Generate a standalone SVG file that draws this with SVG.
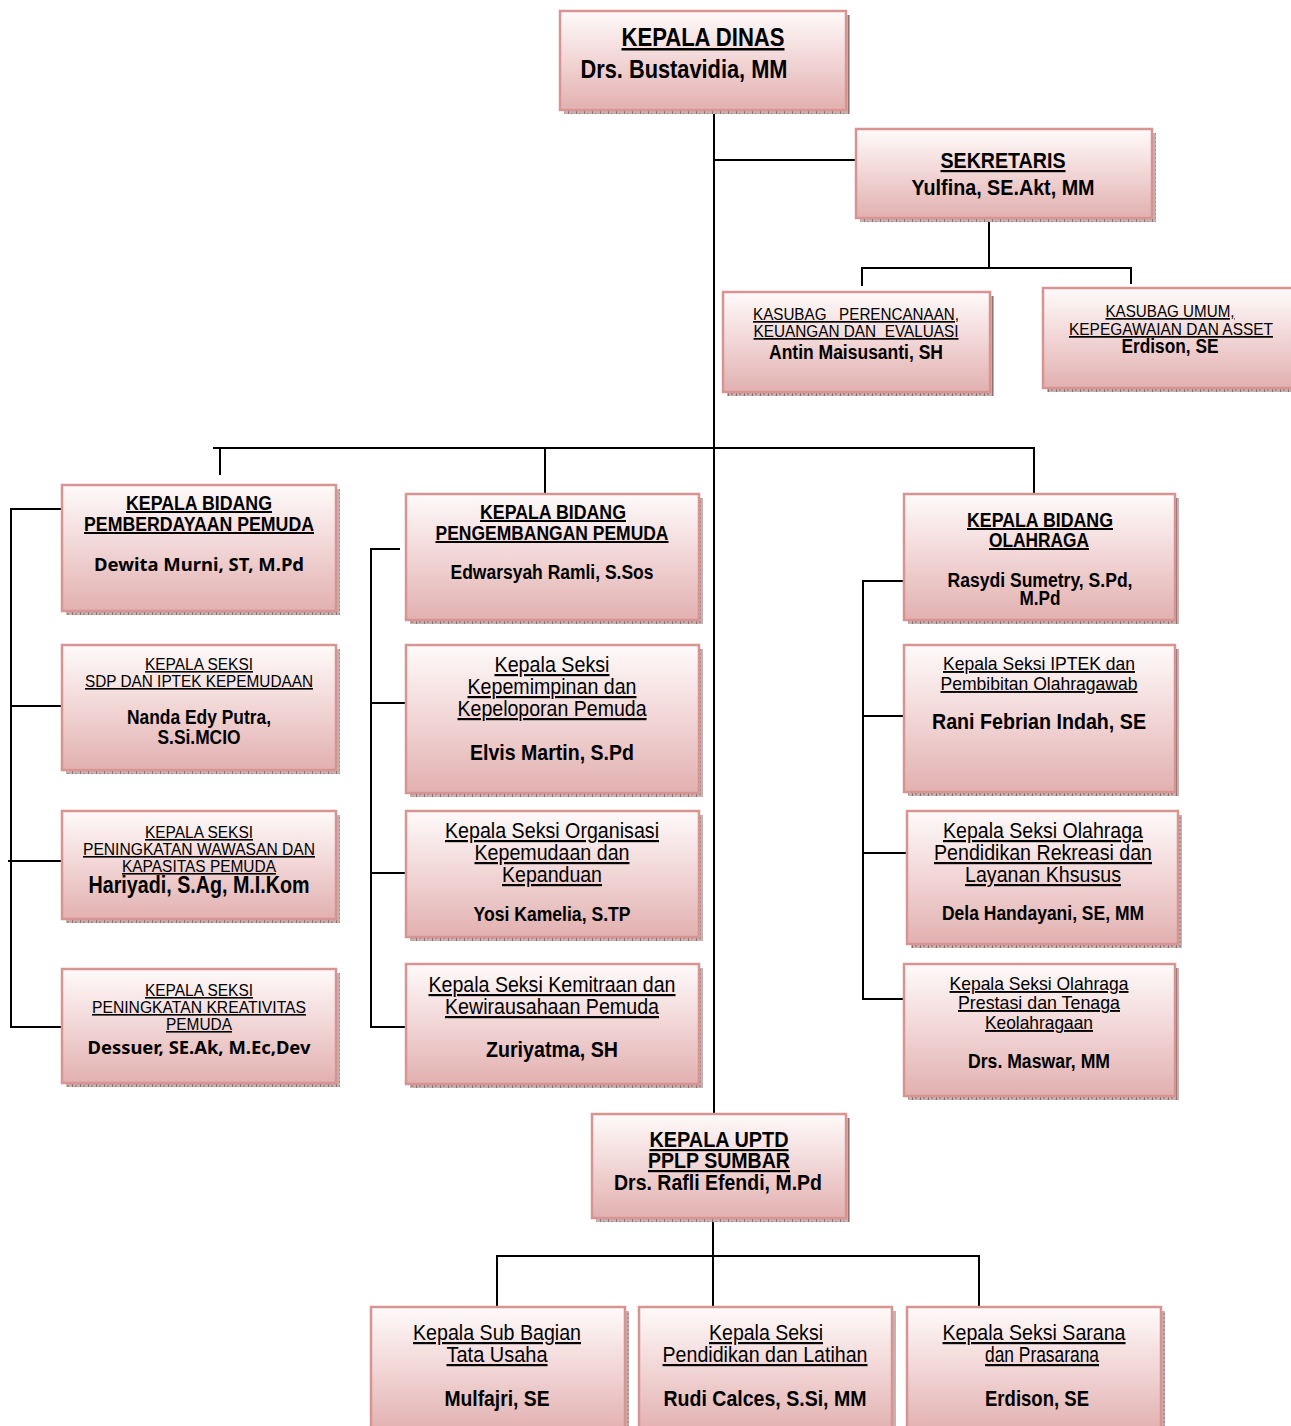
<svg xmlns="http://www.w3.org/2000/svg" width="1291" height="1426" viewBox="0 0 1291 1426">
<defs>
  <linearGradient id="g" x1="0" y1="0" x2="0" y2="1">
    <stop offset="0" stop-color="#fefafa"/>
    <stop offset="0.45" stop-color="#f3d9d9"/>
    <stop offset="1" stop-color="#e2b0b0"/>
  </linearGradient>
  <pattern id="sh" width="8" height="4" patternUnits="userSpaceOnUse">
    <rect width="8" height="4" fill="#c7b1b1"/>
    <rect x="0" y="0" width="1" height="4" fill="#8d6f6f"/>
    <rect x="3" y="1" width="2" height="2" fill="#a88e8e"/>
  </pattern>
</defs>
<style>
  .sh{fill:url(#sh)}
  .bx{fill:url(#g);stroke:#d79493;stroke-width:2.5}
  .ln{stroke:#000;stroke-width:2;fill:none}
  text{font-family:"Liberation Sans Narrow","Arial Narrow","Liberation Sans",sans-serif;text-anchor:middle;fill:#000}
  .h{font-weight:bold;text-decoration:underline}
  .r{text-decoration:underline}
  .b{font-weight:bold}
  .c{font-family:"Noto Sans","Open Sans",sans-serif;font-weight:bold}
</style>

<g id="connectors">
  <path class="ln" d="M714 110 V1114"/>
  <path class="ln" d="M714 160 H856"/>
  <path class="ln" d="M989 218 V268 M862 268 H1131 M862 267 V286 M1131 267 V284"/>
  <path class="ln" d="M213 448 H1035 M220 447 V475 M545 447 V494 M1034 447 V494"/>
  <path class="ln" d="M11 509 V1028 M10 509 H62 M10 706 H62 M8 861 H62 M10 1027 H62"/>
  <path class="ln" d="M371 549 V1028 M370 549 H400 M370 703 H406 M370 873 H406 M370 1027 H406"/>
  <path class="ln" d="M863 581 V1000 M862 581 H904 M862 716 H904 M862 853 H907 M862 999 H904"/>
  <path class="ln" d="M713 1218 V1307 M497 1256 H980 M497 1255 V1307 M979 1255 V1307"/>
</g>

<g id="kepala-dinas">
  <rect class="sh" x="564" y="15" width="286" height="99"/>
  <rect class="bx" x="560" y="11" width="286" height="99"/>
  <text class="h" x="703" y="46" font-size="25" textLength="163" lengthAdjust="spacingAndGlyphs">KEPALA DINAS</text>
  <text class="b" x="684" y="78" font-size="25" textLength="207" lengthAdjust="spacingAndGlyphs">Drs. Bustavidia, MM</text>
</g>

<g id="sekretaris">
  <rect class="sh" x="860" y="133" width="296" height="89"/>
  <rect class="bx" x="856" y="129" width="296" height="89"/>
  <text class="h" x="1003" y="168" font-size="22" textLength="125" lengthAdjust="spacingAndGlyphs">SEKRETARIS</text>
  <text class="b" x="1003" y="195" font-size="22" textLength="183" lengthAdjust="spacingAndGlyphs">Yulfina, SE.Akt, MM</text>
</g>

<g id="kasubag-perencanaan">
  <rect class="sh" x="727" y="296" width="267" height="100"/>
  <rect class="bx" x="723" y="292" width="267" height="100"/>
  <text class="r" x="856" y="320" font-size="17" textLength="206" lengthAdjust="spacingAndGlyphs" xml:space="preserve">KASUBAG   PERENCANAAN,</text>
  <text class="r" x="856" y="337" font-size="17" textLength="205" lengthAdjust="spacingAndGlyphs" xml:space="preserve">KEUANGAN DAN  EVALUASI</text>
  <text class="b" x="856" y="359" font-size="20" textLength="174" lengthAdjust="spacingAndGlyphs">Antin Maisusanti, SH</text>
</g>

<g id="kasubag-umum">
  <rect class="sh" x="1047" y="292" width="250" height="100"/>
  <rect class="bx" x="1043" y="288" width="250" height="100"/>
  <text class="r" x="1170" y="317" font-size="17" textLength="129" lengthAdjust="spacingAndGlyphs">KASUBAG UMUM,</text>
  <text class="r" x="1171" y="335" font-size="17" textLength="204" lengthAdjust="spacingAndGlyphs">KEPEGAWAIAN DAN ASSET</text>
  <text class="b" x="1170" y="353" font-size="20" textLength="97" lengthAdjust="spacingAndGlyphs">Erdison, SE</text>
</g>

<g id="kabid-pemberdayaan">
  <rect class="sh" x="66" y="489" width="274" height="126"/>
  <rect class="bx" x="62" y="485" width="274" height="126"/>
  <text class="h" x="199" y="510" font-size="20" textLength="146" lengthAdjust="spacingAndGlyphs">KEPALA BIDANG</text>
  <text class="h" x="199" y="531" font-size="20" textLength="230" lengthAdjust="spacingAndGlyphs">PEMBERDAYAAN PEMUDA</text>
  <text class="c" x="199" y="571" font-size="18" textLength="210" lengthAdjust="spacingAndGlyphs">Dewita Murni, ST, M.Pd</text>
</g>

<g id="kasi-sdp">
  <rect class="sh" x="66" y="649" width="274" height="125"/>
  <rect class="bx" x="62" y="645" width="274" height="125"/>
  <text class="r" x="199" y="670" font-size="16" textLength="108" lengthAdjust="spacingAndGlyphs">KEPALA SEKSI</text>
  <text class="r" x="199" y="687" font-size="16" textLength="228" lengthAdjust="spacingAndGlyphs">SDP DAN IPTEK KEPEMUDAAN</text>
  <text class="b" x="199" y="724" font-size="20" textLength="144" lengthAdjust="spacingAndGlyphs">Nanda Edy Putra,</text>
  <text class="b" x="199" y="744" font-size="20" textLength="83" lengthAdjust="spacingAndGlyphs">S.Si.MCIO</text>
</g>

<g id="kasi-wawasan">
  <rect class="sh" x="66" y="815" width="274" height="108"/>
  <rect class="bx" x="62" y="811" width="274" height="108"/>
  <text class="r" x="199" y="838" font-size="16" textLength="108" lengthAdjust="spacingAndGlyphs">KEPALA SEKSI</text>
  <text class="r" x="199" y="855" font-size="16" textLength="232" lengthAdjust="spacingAndGlyphs">PENINGKATAN WAWASAN DAN</text>
  <text class="r" x="199" y="872" font-size="16" textLength="154" lengthAdjust="spacingAndGlyphs">KAPASITAS PEMUDA</text>
  <text class="b" x="199" y="893" font-size="24" textLength="221" lengthAdjust="spacingAndGlyphs">Hariyadi, S.Ag, M.I.Kom</text>
</g>

<g id="kasi-kreativitas">
  <rect class="sh" x="66" y="973" width="274" height="114"/>
  <rect class="bx" x="62" y="969" width="274" height="114"/>
  <text class="r" x="199" y="996" font-size="16" textLength="108" lengthAdjust="spacingAndGlyphs">KEPALA SEKSI</text>
  <text class="r" x="199" y="1013" font-size="16" textLength="214" lengthAdjust="spacingAndGlyphs">PENINGKATAN KREATIVITAS</text>
  <text class="r" x="199" y="1030" font-size="16" textLength="66" lengthAdjust="spacingAndGlyphs">PEMUDA</text>
  <text class="c" x="199" y="1054" font-size="18" textLength="223" lengthAdjust="spacingAndGlyphs">Dessuer, SE.Ak, M.Ec,Dev</text>
</g>

<g id="kabid-pengembangan">
  <rect class="sh" x="410" y="498" width="293" height="126"/>
  <rect class="bx" x="406" y="494" width="293" height="126"/>
  <text class="h" x="553" y="519" font-size="20" textLength="146" lengthAdjust="spacingAndGlyphs">KEPALA BIDANG</text>
  <text class="h" x="552" y="540" font-size="20" textLength="233" lengthAdjust="spacingAndGlyphs">PENGEMBANGAN PEMUDA</text>
  <text class="b" x="552" y="579" font-size="20" textLength="203" lengthAdjust="spacingAndGlyphs">Edwarsyah Ramli, S.Sos</text>
</g>

<g id="kasi-kepemimpinan">
  <rect class="sh" x="410" y="649" width="293" height="148"/>
  <rect class="bx" x="406" y="645" width="293" height="148"/>
  <text class="r" x="552" y="672" font-size="22" textLength="115" lengthAdjust="spacingAndGlyphs">Kepala Seksi</text>
  <text class="r" x="552" y="694" font-size="22" textLength="169" lengthAdjust="spacingAndGlyphs">Kepemimpinan dan</text>
  <text class="r" x="552" y="716" font-size="22" textLength="189" lengthAdjust="spacingAndGlyphs">Kepeloporan Pemuda</text>
  <text class="b" x="552" y="760" font-size="22" textLength="164" lengthAdjust="spacingAndGlyphs">Elvis Martin, S.Pd</text>
</g>

<g id="kasi-organisasi">
  <rect class="sh" x="410" y="815" width="293" height="126"/>
  <rect class="bx" x="406" y="811" width="293" height="126"/>
  <text class="r" x="552" y="838" font-size="22" textLength="214" lengthAdjust="spacingAndGlyphs">Kepala Seksi Organisasi</text>
  <text class="r" x="552" y="860" font-size="22" textLength="155" lengthAdjust="spacingAndGlyphs">Kepemudaan dan</text>
  <text class="r" x="552" y="882" font-size="22" textLength="100" lengthAdjust="spacingAndGlyphs">Kepanduan</text>
  <text class="b" x="552" y="921" font-size="20" textLength="157" lengthAdjust="spacingAndGlyphs">Yosi Kamelia, S.TP</text>
</g>

<g id="kasi-kemitraan">
  <rect class="sh" x="410" y="968" width="293" height="120"/>
  <rect class="bx" x="406" y="964" width="293" height="120"/>
  <text class="r" x="552" y="992" font-size="22" textLength="247" lengthAdjust="spacingAndGlyphs">Kepala Seksi Kemitraan dan</text>
  <text class="r" x="552" y="1014" font-size="22" textLength="214" lengthAdjust="spacingAndGlyphs">Kewirausahaan Pemuda</text>
  <text class="b" x="552" y="1057" font-size="22" textLength="132" lengthAdjust="spacingAndGlyphs">Zuriyatma, SH</text>
</g>

<g id="kabid-olahraga">
  <rect class="sh" x="908" y="498" width="271" height="126"/>
  <rect class="bx" x="904" y="494" width="271" height="126"/>
  <text class="h" x="1040" y="527" font-size="20" textLength="146" lengthAdjust="spacingAndGlyphs">KEPALA BIDANG</text>
  <text class="h" x="1039" y="547" font-size="20" textLength="100" lengthAdjust="spacingAndGlyphs">OLAHRAGA</text>
  <text class="b" x="1040" y="587" font-size="20" textLength="185" lengthAdjust="spacingAndGlyphs">Rasydi Sumetry, S.Pd,</text>
  <text class="b" x="1040" y="605" font-size="20" textLength="41" lengthAdjust="spacingAndGlyphs">M.Pd</text>
</g>

<g id="kasi-iptek">
  <rect class="sh" x="908" y="649" width="271" height="147"/>
  <rect class="bx" x="904" y="645" width="271" height="147"/>
  <text class="r" x="1039" y="670" font-size="19" textLength="192" lengthAdjust="spacingAndGlyphs">Kepala Seksi IPTEK dan</text>
  <text class="r" x="1039" y="690" font-size="19" textLength="197" lengthAdjust="spacingAndGlyphs">Pembibitan Olahragawab</text>
  <text class="b" x="1039" y="729" font-size="22" textLength="214" lengthAdjust="spacingAndGlyphs">Rani Febrian Indah, SE</text>
</g>

<g id="kasi-olahraga-pendidikan">
  <rect class="sh" x="911" y="815" width="271" height="133"/>
  <rect class="bx" x="907" y="811" width="271" height="133"/>
  <text class="r" x="1043" y="838" font-size="22" textLength="200" lengthAdjust="spacingAndGlyphs">Kepala Seksi Olahraga</text>
  <text class="r" x="1043" y="860" font-size="22" textLength="218" lengthAdjust="spacingAndGlyphs">Pendidikan Rekreasi dan</text>
  <text class="r" x="1043" y="882" font-size="22" textLength="156" lengthAdjust="spacingAndGlyphs">Layanan Khsusus</text>
  <text class="b" x="1043" y="920" font-size="20" textLength="202" lengthAdjust="spacingAndGlyphs">Dela Handayani, SE, MM</text>
</g>

<g id="kasi-prestasi">
  <rect class="sh" x="908" y="968" width="271" height="132"/>
  <rect class="bx" x="904" y="964" width="271" height="132"/>
  <text class="r" x="1039" y="990" font-size="19" textLength="179" lengthAdjust="spacingAndGlyphs">Kepala Seksi Olahraga</text>
  <text class="r" x="1039" y="1009" font-size="19" textLength="162" lengthAdjust="spacingAndGlyphs">Prestasi dan Tenaga</text>
  <text class="r" x="1039" y="1029" font-size="19" textLength="108" lengthAdjust="spacingAndGlyphs">Keolahragaan</text>
  <text class="b" x="1039" y="1068" font-size="20" textLength="142" lengthAdjust="spacingAndGlyphs">Drs. Maswar, MM</text>
</g>

<g id="kepala-uptd">
  <rect class="sh" x="596" y="1118" width="254" height="104"/>
  <rect class="bx" x="592" y="1114" width="254" height="104"/>
  <text class="h" x="719" y="1147" font-size="22" textLength="139" lengthAdjust="spacingAndGlyphs">KEPALA UPTD</text>
  <text class="h" x="719" y="1168" font-size="22" textLength="142" lengthAdjust="spacingAndGlyphs">PPLP SUMBAR</text>
  <text class="b" x="718" y="1190" font-size="22" textLength="208" lengthAdjust="spacingAndGlyphs">Drs. Rafli Efendi, M.Pd</text>
</g>

<g id="kasubbag-tu">
  <rect class="sh" x="375" y="1311" width="254" height="125"/>
  <rect class="bx" x="371" y="1307" width="254" height="125"/>
  <text class="r" x="497" y="1340" font-size="22" textLength="168" lengthAdjust="spacingAndGlyphs">Kepala Sub Bagian</text>
  <text class="r" x="497" y="1362" font-size="22" textLength="101" lengthAdjust="spacingAndGlyphs">Tata Usaha</text>
  <text class="b" x="497" y="1406" font-size="22" textLength="105" lengthAdjust="spacingAndGlyphs">Mulfajri, SE</text>
</g>

<g id="kasi-diklat">
  <rect class="sh" x="643" y="1311" width="253" height="125"/>
  <rect class="bx" x="639" y="1307" width="253" height="125"/>
  <text class="r" x="766" y="1340" font-size="22" textLength="114" lengthAdjust="spacingAndGlyphs">Kepala Seksi</text>
  <text class="r" x="765" y="1362" font-size="22" textLength="205" lengthAdjust="spacingAndGlyphs">Pendidikan dan Latihan</text>
  <text class="b" x="765" y="1406" font-size="22" textLength="203" lengthAdjust="spacingAndGlyphs">Rudi Calces, S.Si, MM</text>
</g>

<g id="kasi-sarana">
  <rect class="sh" x="911" y="1311" width="254" height="125"/>
  <rect class="bx" x="907" y="1307" width="254" height="125"/>
  <text class="r" x="1034" y="1340" font-size="22" textLength="183" lengthAdjust="spacingAndGlyphs">Kepala Seksi Sarana</text>
  <text class="r" x="1042" y="1362" font-size="22" textLength="114" lengthAdjust="spacingAndGlyphs">dan Prasarana</text>
  <text class="b" x="1037" y="1406" font-size="22" textLength="104" lengthAdjust="spacingAndGlyphs">Erdison, SE</text>
</g>
</svg>
